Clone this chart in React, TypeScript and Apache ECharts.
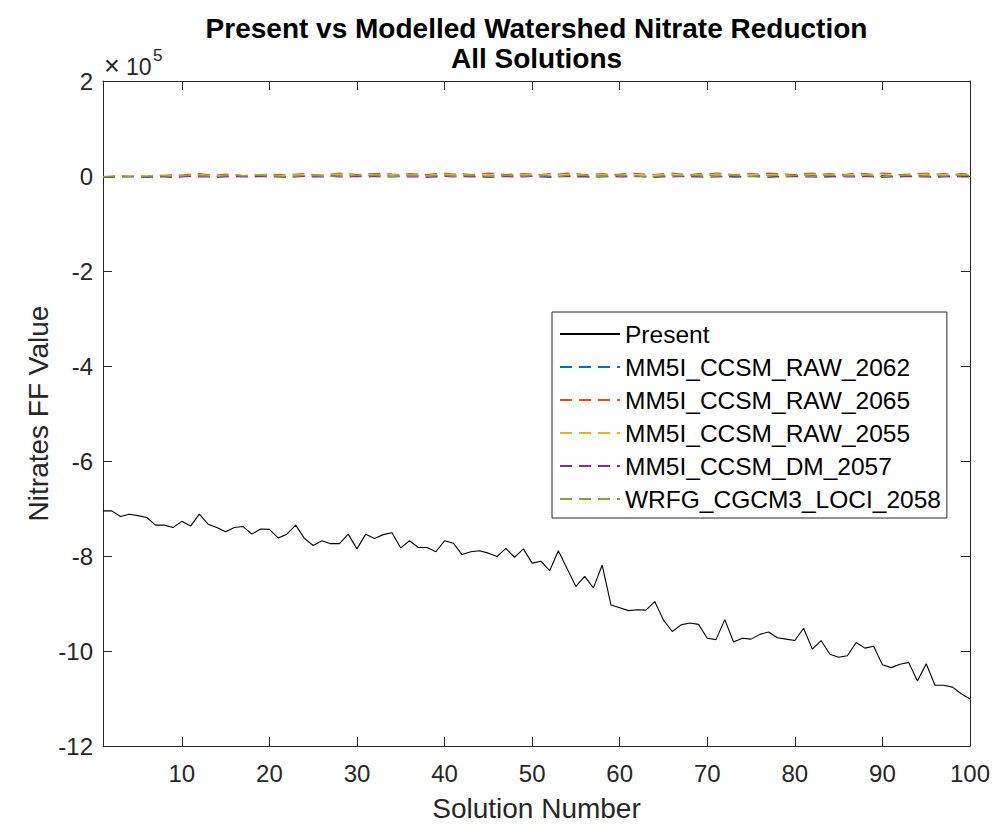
import React, { useEffect, useRef } from "react";
import * as echarts from "echarts";

const FONT = "'Liberation Sans', Arial, Helvetica, sans-serif";
const AXIS_COLOR = "#262626";

const titleLines = ["Present vs Modelled Watershed Nitrate Reduction", "All Solutions"];
const xAxisName = "Solution Number";
const yAxisName = "Nitrates FF Value";
const xTickValues = [10, 20, 30, 40, 50, 60, 70, 80, 90, 100];

const solutionNumbers = Array.from({ length: 100 }, (_, i) => i + 1);

// Present (units of 1e5)
const present = [
  -7.05, -7.05, -7.17, -7.12, -7.15, -7.19, -7.35, -7.35, -7.4, -7.27,
  -7.37, -7.12, -7.33, -7.4, -7.49, -7.4, -7.38, -7.54, -7.43, -7.44,
  -7.62, -7.54, -7.35, -7.63, -7.78, -7.68, -7.74, -7.74, -7.54, -7.85,
  -7.54, -7.63, -7.55, -7.51, -7.83, -7.68, -7.82, -7.82, -7.91, -7.68,
  -7.73, -7.97, -7.91, -7.89, -7.94, -8.01, -7.84, -8.03, -7.85, -8.15,
  -8.11, -8.31, -7.89, -8.27, -8.64, -8.43, -8.67, -8.19, -9.03, -9.09,
  -9.15, -9.13, -9.14, -8.96, -9.35, -9.59, -9.45, -9.41, -9.44, -9.73,
  -9.76, -9.34, -9.81, -9.73, -9.75, -9.65, -9.6, -9.72, -9.75, -9.78,
  -9.52, -9.96, -9.78, -10.07, -10.13, -10.1, -9.82, -9.94, -9.9, -10.29,
  -10.35, -10.28, -10.24, -10.63, -10.27, -10.72, -10.72, -10.76, -10.9, -11.01,
];

// Modelled series (units of 1e3)
const raw2062 = [
  -2, -2, -1, -1, 0, -1, 0, -1, -2, -1, 0, 1, 0, -1, 0, 1, 0, -1, 0, 1,
  0, -1, 0, 1, 0, 0, 1, 2, 1, 0, 1, 2, 1, 0, 1, 2, 1, 0, 0, 1,
  2, 1, 0, -1, 0, 1, 2, 1, 0, 1, 0, -1, 0, 1, 0, -1, 0, 1, 2, 1,
  0, 1, 0, -1, 0, 1, 0, -1, 0, 1, 0, -1, -2, -1, 0, 1, 0, -1, 0, 1,
  2, 1, 0, -1, 0, 1, 0, -1, 0, 1, 0, -1, 0, 1, 0, -1, 0, 1, 2, 1,
];
const raw2065 = [
  -1, 0, 1, 0, -1, 0, 2, 1, 3, 2, 4, 5, 3, 2, 4, 3, 1, 2, 3, 4,
  3, 2, 4, 5, 3, 2, 4, 6, 5, 3, 4, 5, 6, 4, 3, 5, 4, 3, 5, 6,
  4, 5, 3, 4, 6, 5, 3, 4, 5, 4, 3, 5, 4, 6, 5, 3, 4, 5, 3, 4,
  6, 5, 4, 3, 5, 6, 4, 3, 5, 4, 6, 5, 3, 4, 5, 4, 6, 5, 4, 3,
  5, 6, 4, 5, 3, 4, 6, 5, 4, 6, 5, 3, 4, 5, 6, 4, 5, 3, 5, 4,
];
const raw2055 = [
  -1, -1, 0, 0, 1, 0, 1, 2, 1, 0, 2, 3, 1, 0, 1, 2, 1, 2, 3, 2,
  1, 2, 3, 2, 1, 2, 3, 4, 2, 1, 3, 2, 4, 3, 2, 3, 2, 1, 3, 4,
  2, 3, 2, 1, 3, 2, 1, 2, 3, 2, 3, 2, 1, 3, 4, 2, 1, 3, 2, 1,
  3, 2, 1, 2, 3, 2, 1, 2, 3, 2, 4, 3, 2, 1, 2, 3, 2, 3, 2, 1,
  3, 4, 2, 3, 1, 2, 3, 2, 3, 4, 2, 1, 2, 3, 4, 2, 3, 2, 3, 2,
];
const dm2057 = [
  -3, -3, -2, -2, -2, -3, -2, -2, -3, -2, -1, -2, -2, -3, -2, -1, -2, -2, -1, -2,
  -2, -3, -2, -1, -2, -2, -1, -2, -2, -1, -2, -1, -2, -2, -1, -2, -2, -3, -2, -1,
  -2, -1, -2, -2, -3, -2, -1, -2, -2, -1, -2, -3, -2, -1, -2, -2, -3, -2, -1, -2,
  -2, -1, -2, -3, -2, -2, -1, -2, -2, -3, -2, -1, -2, -2, -1, -2, -3, -2, -2, -1,
  -2, -2, -3, -2, -1, -2, -2, -1, -2, -3, -2, -2, -1, -2, -2, -3, -2, -1, -2, -2,
];
const loci2058 = [
  -2, -1, -2, -1, 0, -1, 1, 0, -1, 0, 1, 2, 0, -1, 1, 2, 0, 1, 2, 1,
  0, -2, 0, 1, 2, 0, -1, 1, 2, 1, 0, 2, 1, -1, 0, 2, 1, 0, 1, 2,
  0, 1, 2, 1, -1, 0, 1, 2, 0, 1, 2, 0, -1, 1, 2, 1, 0, -1, 1, 2,
  1, 0, -2, -1, 1, 2, 0, 1, 2, 1, 0, 1, 2, 0, -1, 1, 2, 1, 0, 1,
  2, 0, 1, 2, 1, 0, 1, 2, 0, -1, 1, 2, 1, 0, 1, 2, 0, 1, 2, 1,
];

const modelNames = [
  "MM5I_CCSM_RAW_2062",
  "MM5I_CCSM_RAW_2065",
  "MM5I_CCSM_RAW_2055",
  "MM5I_CCSM_DM_2057",
  "WRFG_CGCM3_LOCI_2058",
];
const modelData = [raw2062, raw2065, raw2055, dm2057, loci2058];
const modelColors = ["#0072BD", "#D95319", "#EDB120", "#7E2F8E", "#77AC30"];

export default function App() {
  const ref = useRef<HTMLDivElement>(null);

  useEffect(() => {
    if (!ref.current) return;
    const chart = echarts.init(ref.current, null, { renderer: "svg" });

    const gridLeft = 103;
    const gridRight = 26;
    const gridTop = 81;
    const gridBottom = 84;
    const plotCenterX = gridLeft + (996 - gridLeft - gridRight) / 2;
    const plotCenterY = gridTop + (830 - gridTop - gridBottom) / 2;

    const tickLabelStyle = { color: AXIS_COLOR, fontFamily: FONT, fontSize: 24 };

    const series: any[] = [
      {
        name: "Present",
        type: "line",
        data: present.map((v, i) => [solutionNumbers[i], v * 1e5]),
        symbol: "none",
        lineStyle: { color: "#000000", width: 1.1 },
        itemStyle: { color: "#000000" },
        z: 2,
      },
      ...modelNames.map((name, k) => ({
        name,
        type: "line",
        data: modelData[k].map((v, i) => [solutionNumbers[i], v * 1e3]),
        symbol: "none",
        lineStyle: { color: modelColors[k], width: 1.2, type: [12, 7] },
        itemStyle: { color: modelColors[k] },
        z: 3,
      })),
    ];

    chart.setOption({
      animation: false,
      backgroundColor: "#ffffff",
      grid: { left: gridLeft, right: gridRight, top: gridTop, bottom: gridBottom },
      xAxis: [
        {
          type: "value",
          min: 1,
          max: 100,
          position: "bottom",
          axisLine: { show: true, onZero: false, lineStyle: { color: AXIS_COLOR, width: 1 } },
          axisTick: { show: true, inside: true, length: 9, customValues: xTickValues, lineStyle: { color: AXIS_COLOR } },
          axisLabel: { ...tickLabelStyle, margin: 15, customValues: xTickValues },
          splitLine: { show: false },
        },
        {
          type: "value",
          min: 1,
          max: 100,
          position: "top",
          axisLine: { show: true, onZero: false, lineStyle: { color: AXIS_COLOR, width: 1 } },
          axisTick: { show: true, inside: true, length: 9, customValues: xTickValues, lineStyle: { color: AXIS_COLOR } },
          axisLabel: { show: false },
          splitLine: { show: false },
        },
      ],
      yAxis: [
        {
          type: "value",
          min: -1200000,
          max: 200000,
          interval: 200000,
          position: "left",
          axisLine: { show: true, onZero: false, lineStyle: { color: AXIS_COLOR, width: 1 } },
          axisTick: { show: true, inside: true, length: 9, lineStyle: { color: AXIS_COLOR } },
          axisLabel: { ...tickLabelStyle, margin: 10, formatter: (v: number) => String(Math.round(v / 1e5)) },
          splitLine: { show: false },
        },
        {
          type: "value",
          min: -1200000,
          max: 200000,
          interval: 200000,
          position: "right",
          axisLine: { show: true, onZero: false, lineStyle: { color: AXIS_COLOR, width: 1 } },
          axisTick: { show: true, inside: true, length: 9, lineStyle: { color: AXIS_COLOR } },
          axisLabel: { show: false },
          splitLine: { show: false },
        },
      ],
      legend: {
        orient: "vertical",
        left: 552,
        top: 312,
        padding: [9, 6, 6, 7],
        itemGap: 7,
        itemWidth: 60,
        itemHeight: 14,
        itemStyle: { opacity: 0 },
        backgroundColor: "#ffffff",
        borderColor: AXIS_COLOR,
        borderWidth: 1,
        borderRadius: 0,
        textStyle: { color: "#000000", fontFamily: FONT, fontSize: 24.5, lineHeight: 26 },
        data: ["Present", ...modelNames],
      },
      graphic: [
        {
          type: "text",
          x: plotCenterX,
          y: 28,
          style: {
            text: titleLines[0],
            fill: "#000000",
            font: `bold 28px ${FONT}`,
            textAlign: "center",
            textVerticalAlign: "middle",
          },
        },
        {
          type: "text",
          x: plotCenterX,
          y: 58,
          style: {
            text: titleLines[1],
            fill: "#000000",
            font: `bold 28px ${FONT}`,
            textAlign: "center",
            textVerticalAlign: "middle",
          },
        },
        {
          type: "text",
          x: 104,
          y: 66,
          style: {
            text: "×",
            fill: AXIS_COLOR,
            font: `27px ${FONT}`,
            textAlign: "left",
            textVerticalAlign: "middle",
          },
        },
        {
          type: "text",
          x: 126,
          y: 67,
          style: {
            text: "10",
            fill: AXIS_COLOR,
            font: `23px ${FONT}`,
            textAlign: "left",
            textVerticalAlign: "middle",
          },
        },
        {
          type: "text",
          x: 153,
          y: 55,
          style: {
            text: "5",
            fill: AXIS_COLOR,
            font: `17px ${FONT}`,
            textAlign: "left",
            textVerticalAlign: "middle",
          },
        },
        {
          type: "text",
          x: plotCenterX,
          y: 808,
          style: {
            text: xAxisName,
            fill: AXIS_COLOR,
            font: `28px ${FONT}`,
            textAlign: "center",
            textVerticalAlign: "middle",
          },
        },
        {
          type: "text",
          x: 38,
          y: plotCenterY,
          rotation: Math.PI / 2,
          style: {
            text: yAxisName,
            fill: AXIS_COLOR,
            font: `28px ${FONT}`,
            textAlign: "center",
            textVerticalAlign: "middle",
          },
        },
      ],
      series,
    });

    return () => chart.dispose();
  }, []);

  return (
    <div
      ref={ref}
      style={{ position: "fixed", left: 0, top: 0, width: 996, height: 830, background: "#fff" }}
    />
  );
}
